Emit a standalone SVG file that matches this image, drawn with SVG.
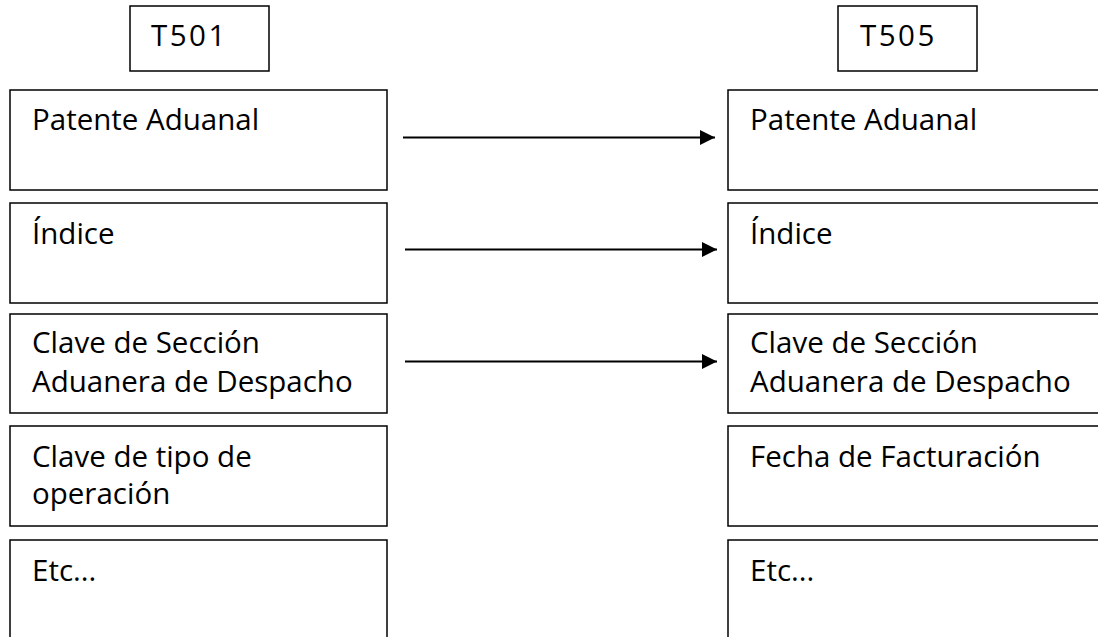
<svg xmlns="http://www.w3.org/2000/svg" width="1098" height="637" viewBox="0 0 1098 637">
<style>
.b{fill:#fff;stroke:#000;stroke-width:1.5}
.t{font-family:"Open Sans","DejaVu Sans",sans-serif;font-size:29.5px;fill:#000}
.h{letter-spacing:2.5px}
.c{stroke:#000;stroke-width:2.2;fill:none;marker-end:url(#ah)}
</style>
<defs>
<marker id="ah" markerWidth="15" markerHeight="15" refX="15" refY="7.5" orient="auto" markerUnits="userSpaceOnUse">
<path d="M0,0 L15,7.5 L0,15 Z" fill="#000"/>
</marker>
</defs>
<rect width="1098" height="637" fill="#fff"/>
<g id="t501"><rect class="b" x="130" y="6" width="139" height="65"/><text class="t h" x="151" y="46">T501</text></g>
<g id="t505"><rect class="b" x="838" y="6" width="139" height="65"/><text class="t h" x="860" y="46">T505</text></g>
<g id="l1"><rect class="b" x="10" y="90" width="377" height="100"/><text class="t" x="32" y="130">Patente Aduanal</text></g>
<g id="l2"><rect class="b" x="10" y="203" width="377" height="100"/><text class="t" x="32" y="244">Índice</text></g>
<g id="l3"><rect class="b" x="10" y="314" width="377" height="99"/><text class="t" x="32" y="353">Clave de Sección</text><text class="t" x="32" y="392">Aduanera de Despacho</text></g>
<g id="l4"><rect class="b" x="10" y="426" width="377" height="100"/><text class="t" x="32" y="467">Clave de tipo de</text><text class="t" x="32" y="504">operación</text></g>
<g id="l5"><rect class="b" x="10" y="540" width="377" height="110"/><text class="t" x="32" y="581">Etc...</text></g>
<g id="r1"><rect class="b" x="728" y="90" width="380" height="100"/><text class="t" x="750" y="130">Patente Aduanal</text></g>
<g id="r2"><rect class="b" x="728" y="203" width="380" height="100"/><text class="t" x="750" y="244">Índice</text></g>
<g id="r3"><rect class="b" x="728" y="314" width="380" height="99"/><text class="t" x="750" y="353">Clave de Sección</text><text class="t" x="750" y="392">Aduanera de Despacho</text></g>
<g id="r4"><rect class="b" x="728" y="426" width="380" height="100"/><text class="t" x="750" y="467">Fecha de Facturación</text></g>
<g id="r5"><rect class="b" x="728" y="540" width="380" height="110"/><text class="t" x="750" y="581">Etc...</text></g>
<g id="connectors">
<line class="c" x1="403" y1="137.5" x2="715" y2="137.5"/>
<line class="c" x1="405" y1="249.5" x2="717" y2="249.5"/>
<line class="c" x1="405" y1="361.5" x2="717" y2="361.5"/>
</g>
</svg>
